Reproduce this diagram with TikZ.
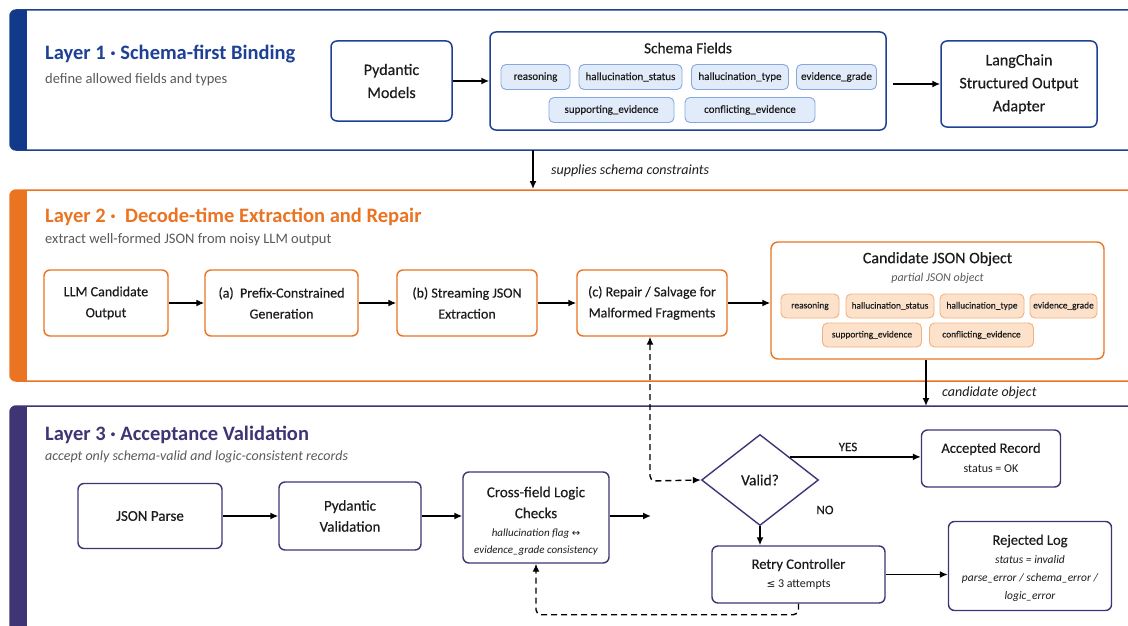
\documentclass[tikz,border=0pt]{standalone}
\usepackage{fontspec}
\setmainfont{Carlito}
\newfontfamily\dejavu{DejaVu Sans}
\newfontfamily\medf[FakeBold=0.35]{Carlito}
\usetikzlibrary{shapes.geometric,arrows.meta,calc}
\definecolor{lone}{HTML}{1E4195}
\definecolor{lonebar}{HTML}{123A8A}
\definecolor{ltwo}{HTML}{EA7421}
\definecolor{lthree}{HTML}{3F3575}
\definecolor{chipAfill}{HTML}{E2EBFA}
\definecolor{chipAdraw}{HTML}{86A8DE}
\definecolor{chipBfill}{HTML}{FDE2CB}
\definecolor{chipBdraw}{HTML}{F5B07A}
\definecolor{txt}{HTML}{1C1C1C}
\definecolor{subg}{HTML}{5A5A5A}
\newcommand{\fs}[1]{\fontsize{#1}{#1}\selectfont}
\tikzset{
  panelborder/.style={line width=1.5pt, rounded corners=6pt, fill=white},
  boxA/.style={draw=lone, line width=1.5pt, rounded corners=6pt, fill=white, align=center, inner sep=0pt, text=txt, font=\medf\fontsize{16}{23}\selectfont},
  boxB/.style={draw=ltwo, line width=1.4pt, rounded corners=6pt, fill=white, align=center, inner sep=0pt, text=txt, font=\medf\fontsize{14}{21}\selectfont},
  boxC/.style={draw=lthree, line width=1.4pt, rounded corners=6pt, fill=white, align=center, inner sep=0pt, text=txt, font=\medf\fontsize{15}{21}\selectfont},
  chipA/.style={draw=chipAdraw, fill=chipAfill, line width=0.9pt, rounded corners=5pt, inner sep=0pt, minimum height=25pt, text=txt, font=\medf\fs{11}},
  chipB/.style={draw=chipBdraw, fill=chipBfill, line width=0.9pt, rounded corners=5pt, inner sep=0pt, minimum height=24pt, text=txt, font=\medf\fs{9.4}},
  arr/.style={line width=1.5pt, draw=black, -{Latex[length=8pt,width=7pt]}},
  darr/.style={line width=1.4pt, draw=black, dash pattern=on 6pt off 4pt},
  ttl/.style={anchor=west, inner sep=0pt, font=\bfseries\fs{20.5}},
  sub/.style={anchor=west, inner sep=0pt, text=subg, font=\fs{14.5}},
  lbl/.style={inner sep=0pt, text=txt, font=\itshape\fs{14}},
  plain/.style={inner sep=0pt, text=txt},
}
\begin{document}
\begin{tikzpicture}[x=1pt,y=-1pt]
\useasboundingbox (0,0) rectangle (1128,626);
\fill[white] (0,0) rectangle (1128,626);
% ---------- panels ----------
\draw[panelborder, draw=lone] (10,10) rectangle (1145,150);
\begin{scope}\clip[rounded corners=6pt] (10,10) rectangle (1145,150);
\fill[lonebar] (10,10) rectangle (27,150);\end{scope}
\draw[panelborder, draw=ltwo] (10,190) rectangle (1145,381);
\begin{scope}\clip[rounded corners=6pt] (10,190) rectangle (1145,381);
\fill[ltwo] (10,190) rectangle (27,381);\end{scope}
\draw[panelborder, draw=lthree] (10,406) rectangle (1145,650);
\begin{scope}\clip[rounded corners=6pt] (10,406) rectangle (1145,650);
\fill[lthree] (10,406) rectangle (27,650);\end{scope}

% ---------- Layer 1 ----------
\node[ttl, text=lone] (t1) at (45,54) {Layer 1 · Schema-first Binding};
\node[sub] (s1) at (45,80) {define allowed fields and types};
\node[boxA, minimum width=121pt, minimum height=80pt] (pyd) at (391.5,81) {Pydantic\\Models};
\node[draw=lone, line width=1.5pt, rounded corners=6pt, fill=white, minimum width=396pt, minimum height=98pt, inner sep=0pt] (schema) at (688,81) {};
\node[plain, font=\medf\fs{15.3}] (schemat) at (688,48) {Schema Fields};
\node[chipA, minimum width=69pt] (a1) at (535.5,77) {reasoning};
\node[chipA, minimum width=103pt] (a2) at (630.5,77) {hallucination\_status};
\node[chipA, minimum width=97pt] (a3) at (740,77) {hallucination\_type};
\node[chipA, minimum width=80pt] (a4) at (836.5,77) {evidence\_grade};
\node[chipA, minimum width=125pt] (a5) at (611.5,110) {supporting\_evidence};
\node[chipA, minimum width=130pt] (a6) at (750,110) {conflicting\_evidence};
\node[boxA, minimum width=156pt, minimum height=86pt] (lang) at (1019,84) {LangChain\\Structured Output\\Adapter};
\draw[arr] (pyd.east) -- (pyd.east -| schema.west);
\draw[arr] ([xshift=6pt]schema.east |- lang.west) -- (lang.west);

% ---------- between 1 and 2 ----------
\coordinate (c1a) at (533,150);
\coordinate (c1b) at (533,189);
\draw[arr] (c1a) -- (c1b);
\node[lbl, anchor=west] (supl) at (551,171) {supplies schema constraints};

% ---------- Layer 2 ----------
\node[ttl, text=ltwo] (t2) at (45,217) {Layer 2 ·\ \ Decode-time Extraction and Repair};
\node[sub] (s2) at (45,240) {extract well-formed JSON from noisy LLM output};
\node[boxB, minimum width=124pt, minimum height=66pt] (llm) at (106,303) {LLM Candidate\\Output};
\node[boxB, minimum width=153pt, minimum height=66pt] (pre) at (281.5,303) {(a)\ \ Prefix-Constrained\\Generation};
\node[boxB, minimum width=140pt, minimum height=66pt] (str) at (467,303) {(b) Streaming JSON\\Extraction};
\node[boxB, minimum width=150pt, minimum height=66pt] (rep) at (652,303) {(c) Repair / Salvage for\\Malformed Fragments};
\node[draw=ltwo, line width=1.4pt, rounded corners=7pt, fill=white, minimum width=333pt, minimum height=117pt, inner sep=0pt] (cand) at (937.5,300.5) {};
\node[plain, font=\medf\fs{16}] (candt) at (937.5,259) {Candidate JSON Object};
\node[plain, text=subg, font=\itshape\fs{12}] (candp) at (937.5,278) {partial JSON object};
\node[chipB, minimum width=58pt] (b1) at (810,306) {reasoning};
\node[chipB, minimum width=88pt] (b2) at (890,306) {hallucination\_status};
\node[chipB, minimum width=84pt] (b3) at (982,306) {hallucination\_type};
\node[chipB, minimum width=67pt] (b4) at (1063.5,306) {evidence\_grade};
\node[chipB, minimum width=99pt] (b5) at (872,335) {supporting\_evidence};
\node[chipB, minimum width=104pt] (b6) at (981.5,335) {conflicting\_evidence};
\draw[arr] (llm.east) -- (pre.west);
\draw[arr] (pre.east) -- (str.west);
\draw[arr] (str.east) -- (rep.west);
\draw[arr] (rep.east) -- (rep.east -| cand.west);

% ---------- between 2 and 3 ----------
\coordinate (c2b) at (926,406);
\draw[arr] (cand.south -| c2b) -- (c2b);
\node[lbl, anchor=west] (candl) at (942,393) {candidate object};

% ---------- Layer 3 ----------
\node[ttl, text=lthree] (t3) at (45,435) {Layer 3 · Acceptance Validation};
\node[sub, font=\itshape\fs{14}] (s3) at (45,457) {accept only schema-valid and logic-consistent records};
\node[boxC, minimum width=144pt, minimum height=65pt] (jp) at (150,516) {JSON Parse};
\node[boxC, minimum width=142pt, minimum height=68pt] (pv) at (350,516) {Pydantic\\Validation};
\node[boxC, minimum width=146pt, minimum height=91pt] (cf) at (536,517.5) {};
\node[plain, align=center, font=\medf\fontsize{15}{21}\selectfont] (cft) at (536,502.5) {Cross-field Logic\\Checks};
\node[plain, align=center, font=\itshape\fontsize{11}{17}\selectfont] (cfs) at (536,542.5) {hallucination flag {\dejavu\upshape\fs{10}↔}\\evidence\_grade consistency};
\coordinate (cfend) at (651,516);
\node[draw=lthree, line width=1.4pt, diamond, aspect=1.3, minimum width=117pt, minimum height=91pt, inner sep=0pt, fill=white, text=txt, font=\medf\fs{15.5}] (valid) at (760,480) {Valid?};
\node[boxC, minimum width=139pt, minimum height=57pt] (acc) at (991,458.5) {};
\node[plain, font=\medf\fs{14.5}] (acct) at (991,449) {Accepted Record};
\node[plain, font=\fs{12}] (accs) at (991,469) {status = OK};
\node[boxC, minimum width=173pt, minimum height=57pt] (retry) at (798.5,574.5) {};
\node[plain, font=\medf\fs{14.5}] (retryt) at (798.5,565) {Retry Controller};
\node[plain, font=\fs{12}] (retrys) at (798.5,585) {{\dejavu\fs{10.5}≤} 3 attempts};
\node[boxC, minimum width=163pt, minimum height=89pt] (rej) at (1030,566) {};
\node[plain, font=\medf\fs{14.5}] (rejt) at (1030,541) {Rejected Log};
\node[plain, align=center, font=\itshape\fontsize{11.5}{18}\selectfont] (rejs) at (1030,578) {status = invalid\\parse\_error / schema\_error /\\logic\_error};
\node[plain, font=\medf\fs{13}] (yes) at (848,447) {YES};
\node[plain, font=\medf\fs{13}] (no) at (825,510) {NO};
\draw[arr] (jp.east) -- (pv.west);
\draw[arr] (pv.east) -- (cf.west |- pv.east);
\draw[arr] (cf.east |- cfend) -- (cfend);
\draw[arr] (valid.north east) -- (valid.north east -| acc.west);
\draw[arr] (valid.south) -- (valid.south |- retry.north);
\draw[arr] (retry.east) -- (retry.east -| rej.west);
\coordinate (dcorner) at (650,481);
\draw[darr, {Latex[length=8pt,width=7pt]}-{Latex[length=8pt,width=7pt]}, rounded corners=5pt] (rep.south -| dcorner) -- (dcorner) -- (valid.west);
\draw[darr, -{Latex[length=8pt,width=7pt]}, rounded corners=5pt] (retry.south) -- ++(0,11) -| (cf.south);
\end{tikzpicture}
\end{document}
